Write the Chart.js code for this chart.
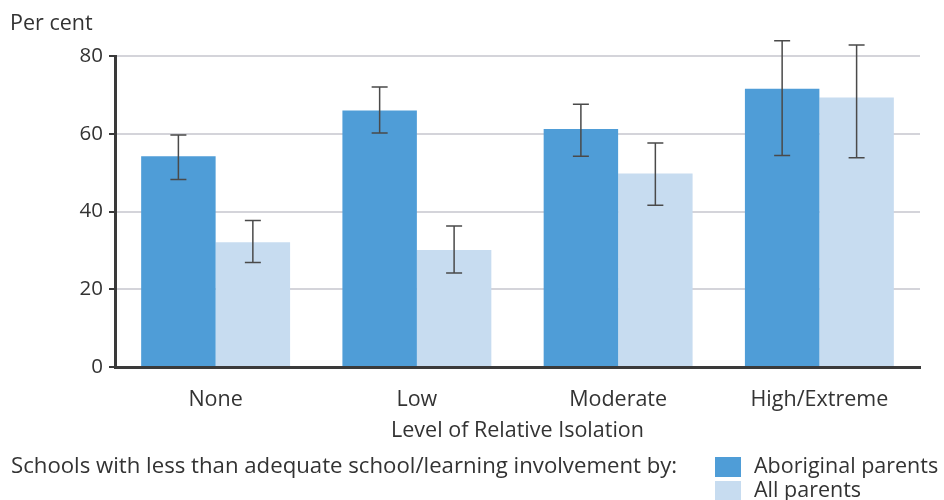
<!DOCTYPE html>
<html>
<head>
<meta charset="utf-8">
<script src="https://cdn.jsdelivr.net/npm/chart.js@4.4.0/dist/chart.umd.min.js"></script>
<style>
  html, body { margin: 0; padding: 0; background: #fff; }
  #wrap { width: 944px; height: 500px; position: relative; }
</style>
</head>
<body>
<div id="wrap"><canvas id="chart-1" width="944" height="500"></canvas></div>
<script>
const categories = ['None', 'Low', 'Moderate', 'High/Extreme'];
const aboriginal = [54.2, 66.0, 61.2, 71.6];
const aboriginalLow = [48.2, 60.2, 54.2, 54.4];
const aboriginalHigh = [59.7, 72.0, 67.6, 83.9];
const allParents = [32.1, 30.1, 49.8, 69.3];
const allLow = [26.9, 24.2, 41.6, 53.8];
const allHigh = [37.7, 36.3, 57.6, 82.8];
const yTicks = [0, 20, 40, 60, 80];

const FONT = '"Open Sans", "Noto Sans", sans-serif';
const TEXT = '#333333';

// draws the error bars on top of the bars, using the y scale
const errorBars = {
  id: 'errorBars',
  afterDatasetsDraw(chart) {
    const ctx = chart.ctx;
    const y = chart.scales.y;
    chart.data.datasets.forEach((ds, i) => {
      const meta = chart.getDatasetMeta(i);
      meta.data.forEach((bar, j) => {
        const top = y.getPixelForValue(ds.errHigh[j]);
        const bot = y.getPixelForValue(ds.errLow[j]);
        ctx.save();
        ctx.strokeStyle = '#4a4a4a';
        ctx.lineWidth = 1.5;
        ctx.beginPath();
        ctx.moveTo(bar.x, top); ctx.lineTo(bar.x, bot);
        ctx.moveTo(bar.x - 8, top); ctx.lineTo(bar.x + 8, top);
        ctx.moveTo(bar.x - 8, bot); ctx.lineTo(bar.x + 8, bot);
        ctx.stroke();
        ctx.restore();
      });
    });
  }
};

// "Per cent" label and the bottom legend line
const extras = {
  id: 'extras',
  afterDraw(chart) {
    const ctx = chart.ctx;
    ctx.save();
    ctx.font = '21.5px ' + FONT;
    ctx.fillStyle = TEXT;
    ctx.textBaseline = 'middle';
    ctx.textAlign = 'left';
    ctx.fillText('Per cent', 10, 24);
    ctx.font = '22.2px ' + FONT;
    ctx.fillText('Schools with less than adequate school/learning involvement by:', 11, 467);
    ctx.font = '21.5px ' + FONT;
    chart.data.datasets.forEach((ds, i) => {
      const yy = 467 + i * 24;
      ctx.fillStyle = ds.backgroundColor;
      ctx.fillRect(715, yy - 10, 26, 20);
      ctx.fillStyle = TEXT;
      ctx.fillText(ds.label, 754, yy);
    });
    ctx.restore();
  }
};

const ctx1 = document.getElementById('chart-1');

new Chart(ctx1, {
  type: 'bar',
  data: {
    labels: categories,
    datasets: [{
      label: 'Aboriginal parents',
      data: aboriginal,
      errLow: aboriginalLow,
      errHigh: aboriginalHigh,
      backgroundColor: '#4f9dd7',
    }, {
      label: 'All parents',
      data: allParents,
      errLow: allLow,
      errHigh: allHigh,
      backgroundColor: '#c7dcf0',
    }]
  },
  options: {
    responsive: false,
    animation: false,
    layout: { padding: { left: 0, right: 24, top: 56, bottom: 56 } },
    datasets: { bar: { barPercentage: 1.0, categoryPercentage: 0.74 } },
    plugins: {
      legend: { display: false },
      tooltip: { enabled: false }
    },
    scales: {
      x: {
        grid: { display: false },
        border: { display: true, color: '#3a3a3a', width: 3 },
        ticks: { color: TEXT, font: { family: FONT, size: 21.5 }, padding: 12 },
        title: {
          display: true,
          text: 'Level of Relative Isolation',
          color: TEXT,
          font: { family: FONT, size: 21.5 },
          padding: { top: 2, bottom: 0 }
        },
        afterFit(scale) { scale.height = 77; }
      },
      y: {
        min: 0,
        max: 80,
        afterBuildTicks(scale) { scale.ticks = yTicks.map(v => ({ value: v })); },
        grid: { color: '#d4d4da', lineWidth: 2, tickColor: '#3a3a3a', tickLength: 6 },
        border: { color: '#3a3a3a', width: 3 },
        ticks: { color: TEXT, font: { family: FONT, size: 20.5 }, padding: 6 },
        afterFit(scale) { scale.width = 115; }
      }
    }
  },
  plugins: [errorBars, extras]
});
</script>
</body>
</html>
